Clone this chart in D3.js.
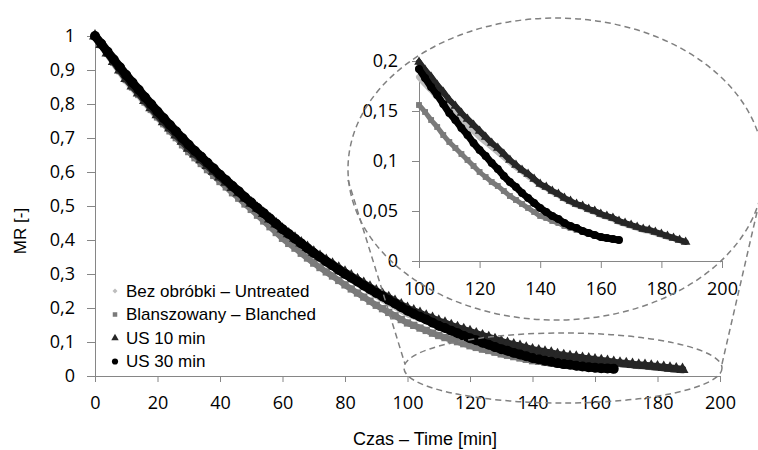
<!DOCTYPE html>
<html>
<head>
<meta charset="utf-8">
<script src="https://cdn.jsdelivr.net/npm/d3@7"></script>
<style>
  body { margin: 0; background: #fff; }
  svg { display: block; }
  .tick text { font-family: "Open Sans", sans-serif; font-size: 18px; fill: #000; }
  .axis path, .axis line { stroke: #868686; stroke-width: 1; }
  .lbl { font-family: "Liberation Sans", Arial, sans-serif; fill: #000; }
</style>
</head>
<body>
<svg id="chart" width="758" height="450"></svg>
<script>
// sampling step of the readings, in minutes
const step = 2;

const untreatedMR = [1.000,0.974,0.948,0.922,0.896,0.870,0.848,0.827,0.805,0.784,0.762,0.743,0.723,0.704,0.684,0.665,0.648,0.631,0.614,0.597,
  0.580,0.565,0.550,0.535,0.520,0.505,0.489,0.473,0.457,0.441,0.425,0.411,0.398,0.384,0.371,0.357,0.345,0.333,0.322,0.310,
  0.298,0.286,0.274,0.262,0.250,0.238,0.227,0.216,0.206,0.195,0.184,0.177,0.171,0.164,0.158,0.152,0.146,0.141,0.135,0.130,
  0.124,0.119,0.114,0.109,0.104,0.099,0.094,0.090,0.085,0.081,0.076,0.073,0.069,0.066,0.062,0.059,0.056,0.054,0.051,0.049,
  0.046,0.044,0.042,0.039,0.037,0.035,0.033,0.031,0.030,0.028,0.026,0.024,0.023,0.021];

const blanchedMR = [1.000,0.974,0.949,0.923,0.898,0.872,0.850,0.828,0.806,0.784,0.762,0.742,0.721,0.701,0.680,0.660,0.642,0.625,0.607,0.590,
  0.572,0.556,0.539,0.523,0.506,0.490,0.473,0.456,0.439,0.422,0.405,0.390,0.376,0.361,0.347,0.332,0.319,0.306,0.294,0.281,
  0.268,0.256,0.244,0.232,0.220,0.208,0.198,0.187,0.177,0.166,0.156,0.149,0.141,0.134,0.126,0.119,0.113,0.107,0.101,0.095,
  0.089,0.084,0.079,0.075,0.070,0.065,0.061,0.057,0.053,0.049,0.045,0.043,0.040,0.038,0.035,0.033,0.031,0.029,0.027,0.025];

const us10MR = [1.000,0.975,0.950,0.925,0.900,0.875,0.853,0.832,0.810,0.789,0.768,0.748,0.729,0.709,0.690,0.670,0.653,0.636,0.619,0.602,
  0.585,0.570,0.554,0.539,0.523,0.508,0.493,0.478,0.462,0.447,0.432,0.418,0.405,0.391,0.378,0.364,0.352,0.340,0.329,0.317,
  0.305,0.294,0.283,0.272,0.261,0.250,0.240,0.230,0.219,0.209,0.199,0.191,0.184,0.176,0.169,0.161,0.155,0.148,0.142,0.136,
  0.130,0.124,0.118,0.113,0.107,0.101,0.096,0.091,0.087,0.082,0.077,0.074,0.070,0.067,0.063,0.060,0.057,0.055,0.052,0.050,
  0.047,0.045,0.043,0.040,0.038,0.036,0.034,0.032,0.031,0.029,0.027,0.025,0.023,0.021,0.019];

const us30MR = [1.000,0.977,0.954,0.931,0.908,0.885,0.863,0.842,0.820,0.799,0.778,0.758,0.738,0.719,0.699,0.680,0.662,0.645,0.627,0.610,
  0.592,0.576,0.559,0.543,0.526,0.510,0.494,0.479,0.463,0.448,0.432,0.418,0.404,0.390,0.376,0.362,0.350,0.337,0.325,0.312,
  0.300,0.289,0.278,0.266,0.255,0.244,0.234,0.223,0.213,0.202,0.192,0.183,0.174,0.166,0.157,0.148,0.141,0.133,0.126,0.118,
  0.111,0.105,0.098,0.092,0.085,0.079,0.074,0.068,0.063,0.058,0.053,0.049,0.045,0.042,0.038,0.035,0.033,0.030,0.028,0.026,
  0.024,0.023,0.022,0.021];

const seriesNames = ["Bez obróbki – Untreated", "Blanszowany – Blanched", "US 10 min", "US 30 min"];
const seriesColors = ["#bdbdbd", "#7a7a7a", "#262626", "#000000"];

const mainXTicks = [0, 20, 40, 60, 80, 100, 120, 140, 160, 180, 200];
const mainYTicks = [0, 0.1, 0.2, 0.3, 0.4, 0.5, 0.6, 0.7, 0.8, 0.9, 1];
const insetXTicks = [100, 120, 140, 160, 180, 200];
const insetYTicks = [0, 0.05, 0.1, 0.15, 0.2];

const svg = d3.select("#chart");

const symTypes = [d3.symbolDiamond2, d3.symbolSquare, d3.symbolTriangle, d3.symbolCircle];
const symSizes = [26, 34, 40, 50];
const bandWidths = [6, 5, 6, 7];

const series = [untreatedMR, blanchedMR, us10MR, us30MR].map((vals, k) => ({
  name: seriesNames[k],
  color: seriesColors[k],
  type: symTypes[k],
  size: symSizes[k],
  band: bandWidths[k],
  points: vals.map((v, i) => ({ t: i * step, v: v }))
}));

const comma = d => d3.format("~g")(d).replace(".", ",");

// ---- main chart
const x = d3.scaleLinear().domain([0, 200]).range([95, 720]);
const y = d3.scaleLinear().domain([0, 1]).range([376, 36]);

svg.append("g").attr("class", "axis").attr("transform", "translate(0,376)")
  .call(d3.axisBottom(x).tickValues(mainXTicks).tickSize(6).tickSizeOuter(0).tickPadding(14).tickFormat(d3.format("d")));
svg.append("g").attr("class", "axis").attr("transform", "translate(95,0)")
  .call(d3.axisLeft(y).tickValues(mainYTicks).tickSize(8).tickSizeOuter(0).tickPadding(12).tickFormat(comma));

// dense markers: a band through the points, then the markers on top
function drawMarks(g, xs, ys, s, minT, scale) {
  const pts = s.points.filter(p => p.t >= minT);
  const line = d3.line().x(p => xs(p.t)).y(p => ys(p.v)).curve(d3.curveMonotoneX);
  g.append("path").datum(pts)
    .attr("d", line)
    .attr("fill", "none")
    .attr("stroke", s.color)
    .attr("stroke-width", s.band * scale)
    .attr("stroke-linecap", "round");
  g.append("g").selectAll("path")
    .data(pts)
    .enter().append("path")
    .attr("d", d3.symbol().type(s.type).size(s.size * scale * scale))
    .attr("transform", p => `translate(${xs(p.t)},${ys(p.v)})`)
    .attr("fill", s.color);
}

const plot = svg.append("g");
series.forEach(s => drawMarks(plot, x, y, s, 0, 1.25));

// legend
const legend = svg.append("g").attr("transform", "translate(115,291)");
series.forEach((s, i) => {
  const row = legend.append("g").attr("transform", `translate(0,${i * 23.5})`);
  row.append("path").attr("d", d3.symbol().type(s.type).size(s.size * 0.6)).attr("fill", s.color);
  row.append("text").attr("class", "lbl").attr("x", 11).attr("dy", "0.35em")
    .style("font-size", "17px").text(s.name);
});

svg.append("text").attr("class", "lbl").attr("transform", "translate(26,231) rotate(-90)")
  .attr("text-anchor", "middle").style("font-size", "17px").text("MR [-]");
svg.append("text").attr("class", "lbl").attr("x", 425).attr("y", 445)
  .attr("text-anchor", "middle").style("font-size", "18px").text("Czas – Time [min]");

// ---- inset (zoom of 100-200 min)
const xi = d3.scaleLinear().domain([100, 200]).range([419, 722]);
const yi = d3.scaleLinear().domain([0, 0.2]).range([261, 61]);

svg.append("g").attr("class", "axis").attr("transform", "translate(0,261)")
  .call(d3.axisBottom(xi).tickValues(insetXTicks).tickSize(7).tickSizeOuter(0).tickPadding(14).tickFormat(d3.format("d")));
svg.append("g").attr("class", "axis").attr("transform", "translate(419,0)")
  .call(d3.axisLeft(yi).tickValues(insetYTicks).tickSize(7).tickSizeOuter(0).tickPadding(14).tickFormat(comma));

const inset = svg.append("g");
series.forEach(s => drawMarks(inset, xi, yi, s, 100, 1));

// ---- dashed zoom callout
const dash = { stroke: "#808080", "stroke-width": 1.5, "stroke-dasharray": "6,4", fill: "none" };
function styled(sel) { Object.entries(dash).forEach(([k, v]) => sel.attr(k, v)); return sel; }

styled(svg.append("ellipse").attr("cx", 556).attr("cy", 169).attr("rx", 208).attr("ry", 151));
styled(svg.append("ellipse").attr("cx", 563).attr("cy", 368).attr("rx", 159).attr("ry", 35));
styled(svg.append("line").attr("x1", 348).attr("y1", 180).attr("x2", 405).attr("y2", 364));
styled(svg.append("line").attr("x1", 757).attr("y1", 212).attr("x2", 722).attr("y2", 364));
</script>
</body>
</html>
